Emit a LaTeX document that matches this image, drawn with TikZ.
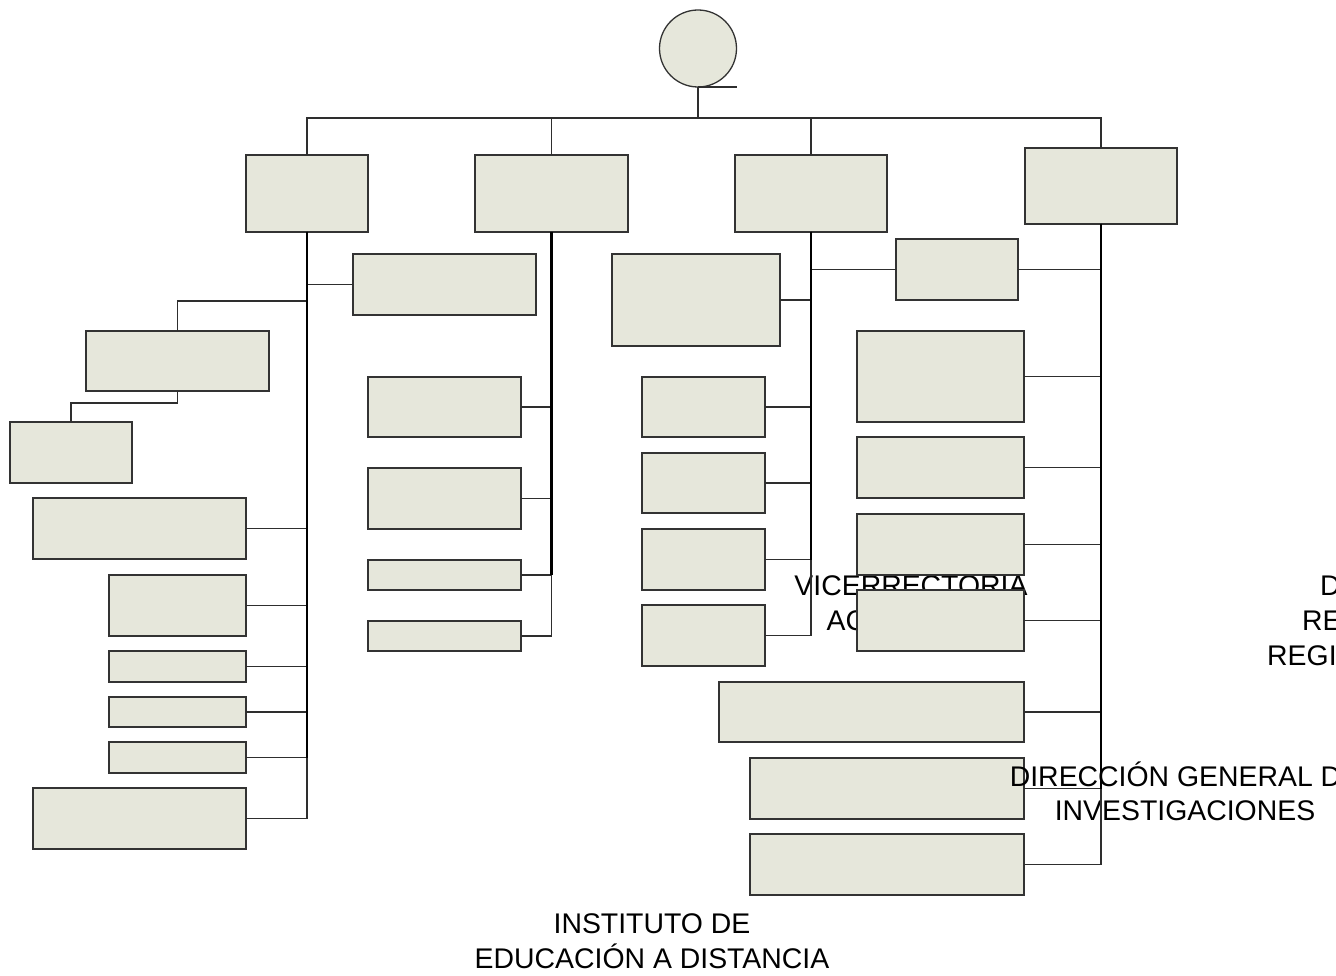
\documentclass[tikz,border=0pt]{standalone}
\usepackage{fontspec}
\setmainfont{Liberation Sans}
\definecolor{boxfill}{HTML}{E6E7DB}
\definecolor{boxline}{HTML}{333333}
\definecolor{linkcol}{HTML}{2E2E2E}
\tikzset{
  box/.style={draw=boxline, fill=boxfill, line width=1.3pt, inner sep=0pt, outer sep=0pt},
  link/.style={draw=linkcol, line width=1.5pt},
  trunk/.style={draw=black, line width=2.2pt},
  lbl/.style={inner sep=0pt, font=\fontsize{28.4}{34}\selectfont, text=black},
}
% box from (x1,y1) to (x2,y2), y measured downwards
\newcommand\orgbox[5]{\node[box, minimum width={#4-#2}, minimum height={#5-#3}] (#1) at ({(#2+#4)/2},{(#3+#5)/2}) {};}
\begin{document}
\begin{tikzpicture}[x=1pt, y=-1pt]
\useasboundingbox (0,0) rectangle (1336,976);

% label partly hidden behind the boxes
\node[lbl, anchor=base] (vic1) at (911,595) {VICERRECTORIA};
\node[lbl, anchor=base] (vic2) at (911,630) {ACADÉMICA};

% head
\node[box, circle, minimum size=77] (top) at (698,48.5) {};

% first level
\orgbox{B1}{246}{155}{368}{232}
\orgbox{B2}{475}{155}{628}{232}
\orgbox{B3}{735}{155}{887}{232}
\orgbox{B4}{1025}{148}{1177}{224}

% left branch
\orgbox{C11}{353}{254}{536}{315}
\orgbox{C12}{86}{331}{269}{391}
\orgbox{C13}{10}{422}{132}{483}
\orgbox{C14}{33}{498}{246}{559}
\orgbox{C15}{109}{575}{246}{636}
\orgbox{C16}{109}{651}{246}{682}
\orgbox{C17}{109}{697}{246}{727}
\orgbox{C18}{109}{742}{246}{773}
\orgbox{C19}{33}{788}{246}{849}

% second branch
\orgbox{D1}{368}{377}{521}{437}
\orgbox{D2}{368}{468}{521}{529}
\orgbox{D3}{368}{560}{521}{590}
\orgbox{D4}{368}{621}{521}{651}

% third branch
\orgbox{E0}{612}{254}{780}{346}
\orgbox{E1}{642}{377}{765}{437}
\orgbox{E2}{642}{453}{765}{513}
\orgbox{E3}{642}{529}{765}{590}
\orgbox{E4}{642}{605}{765}{666}
\orgbox{F0}{896}{239}{1018}{300}

% fourth branch
\orgbox{G1}{857}{331}{1024}{422}
\orgbox{G2}{857}{437}{1024}{498}
\orgbox{G3}{857}{514}{1024}{575}
\orgbox{G4}{857}{590}{1024}{651}
\orgbox{G5}{719}{682}{1024}{742}
\orgbox{G6}{750}{758}{1024}{819}
\orgbox{G7}{750}{834}{1024}{895}

% labels
\node[lbl, anchor=base] (dgi1) at (1185,786) {DIRECCIÓN GENERAL DE};
\node[lbl, anchor=base] (dgi2) at (1185,820) {INVESTIGACIONES};
\node[lbl, anchor=base] (ied1) at (652,933) {INSTITUTO DE};
\node[lbl, anchor=base] (ied2) at (652,968) {EDUCACIÓN A DISTANCIA};
\node[lbl, anchor=base west] (reg1) at (1320,595) {DIRECCIÓN};
\node[lbl, anchor=base west] (reg2) at (1302,630) {RELACIONES};
\node[lbl, anchor=base west] (reg3) at (1267,665) {REGIONALIZACIÓN};

% connectors from the head
\coordinate (bus) at (698,118);
\coordinate (tick) at (737,87);
\coordinate (j12) at (177.5,301);
\draw[link] (top.south) -- (tick);
\draw[link] (top.south) -- (top.south |- bus);
\draw[link] (B1.north) |- (B4.north |- bus) -- (B4.north);
\draw[link] (B2.north) -- (B2.north |- bus);
\draw[link] (B3.north) -- (B3.north |- bus);

% left branch connectors
\foreach \n in {C14,C15,C16,C17,C18,C19} \draw[link] (B1.south) |- (\n.east);
\draw[link] (B1.south) |- (C11.west);
\draw[link] (B1.south) |- (j12) -- (C12.north);
\draw[link] (C12.south) -- ++(0,12) -| (C13.north);
\draw[trunk] (B1.south) -- (B1.south |- C18.east);

% second branch connectors
\foreach \n in {D1,D2,D3,D4} \draw[link] (B2.south) |- (\n.east);
\draw[trunk] (B2.south) -- (B2.south |- D3.east);

% third branch connectors
\foreach \n in {E0,E1,E2,E3,E4} \draw[link] (B3.south) |- (\n.east);
\draw[link] (B3.south) |- (F0.west);
\draw[trunk] (B3.south) -- (B3.south |- E3.east);

% fourth branch connectors
\foreach \n in {G1,G2,G3,G4,G5,G6,G7} \draw[link] (B4.south) |- (\n.east);
\draw[link] (B4.south) |- (F0.east);
\draw[trunk] (B4.south) -- (B4.south |- G6.east);
\end{tikzpicture}
\end{document}
